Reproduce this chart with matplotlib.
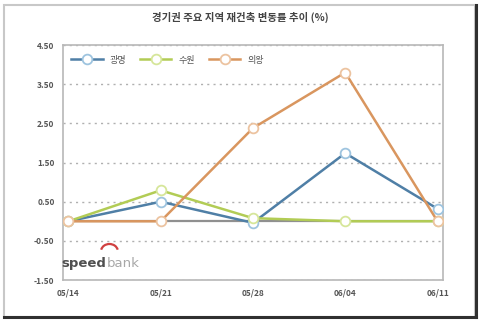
import matplotlib
matplotlib.use("Agg")
import matplotlib.pyplot as plt
from matplotlib.patches import Rectangle, Arc

plt.rcParams['font.family'] = ['Noto Sans CJK KR', 'DejaVu Sans']

title = "경기권 주요 지역 재건축 변동률 추이 (%)"
dates = ["05/14", "05/21", "05/28", "06/04", "06/11"]
series_names = ["광명", "수원", "의왕"]
gwangmyeong = [0.0, 0.50, -0.04, 1.74, 0.32]
suwon = [0.0, 0.79, 0.08, 0.0, 0.0]
uiwang = [0.0, 0.0, 2.38, 3.80, 0.0]
yticks = [4.5, 3.5, 2.5, 1.5, 0.5, -0.5, -1.5]

colors = ["#4f7fa6", "#b2cc55", "#d9965f"]
edge_colors = ["#9ec4df", "#d6e69a", "#ecc3a0"]

fig = plt.figure(figsize=(4.8, 3.2), dpi=100)
fig.patch.set_facecolor("white")

# outer frame
fig.add_artist(Rectangle((0.008, 0.01), 0.982, 0.975, transform=fig.transFigure,
                         fill=False, edgecolor="#c8c8c8", linewidth=1.5))
fig.add_artist(plt.Line2D([0.992, 0.992], [0.01, 0.985], transform=fig.transFigure,
                          color="#303030", linewidth=2.2))
fig.add_artist(plt.Line2D([0.008, 0.992], [0.01, 0.01], transform=fig.transFigure,
                          color="#303030", linewidth=2.2))

ax = fig.add_axes([0.131, 0.125, 0.792, 0.734])
x = list(range(len(dates)))
for vals, name, c, ec in zip([gwangmyeong, suwon, uiwang], series_names, colors, edge_colors):
    ax.plot(x, vals, color=c, linewidth=1.8, marker='o', markersize=7,
            markerfacecolor='white', markeredgecolor=ec, markeredgewidth=1.3,
            label=name, zorder=3)

ax.set_ylim(-1.5, 4.5)
ax.set_xlim(-0.06, 4.06)
ax.set_yticks(yticks)
ax.set_yticklabels([f"{v:.2f}" for v in yticks], fontsize=6, color="#555555", fontweight='bold')
ax.set_xticks(x)
ax.set_xticklabels(dates, fontsize=6, color="#555555", fontweight='bold')
ax.tick_params(length=0, pad=6)
for v in yticks:
    ax.axhline(v, color="#b0b0b0", linestyle=(0, (1.5, 3)), linewidth=1.0, zorder=1)
ax.axhline(0, color="#909090", linewidth=1.6, zorder=2)
for s in ax.spines.values():
    s.set_color("#b8b8b8")
    s.set_linewidth(1.2)

leg = ax.legend(loc='upper left', ncol=3, frameon=False, fontsize=6.5,
                bbox_to_anchor=(0.0, 0.99), handlelength=3.5, columnspacing=1.5,
                labelcolor="#555555")

fig.text(0.5, 0.945, title, ha='center', va='center', fontsize=7.5,
         color="#444444", fontweight='bold')

# speedbank logo
t1 = fig.text(0.128, 0.165, "speed", fontsize=9.5, fontweight='bold', color="#505050",
              ha='left', va='baseline', family='DejaVu Sans')
ax.annotate("bank", xy=(1, 0), xycoords=t1, fontsize=9.5, color="#a8a8a8",
            ha='left', va='bottom', family='DejaVu Sans', annotation_clip=False)
fig.add_artist(Arc((0.228, 0.215), 0.035, 0.045, theta1=15, theta2=165,
                   transform=fig.transFigure, color="#d04040", linewidth=1.6))

fig.savefig("out.png", dpi=100, facecolor="white")
